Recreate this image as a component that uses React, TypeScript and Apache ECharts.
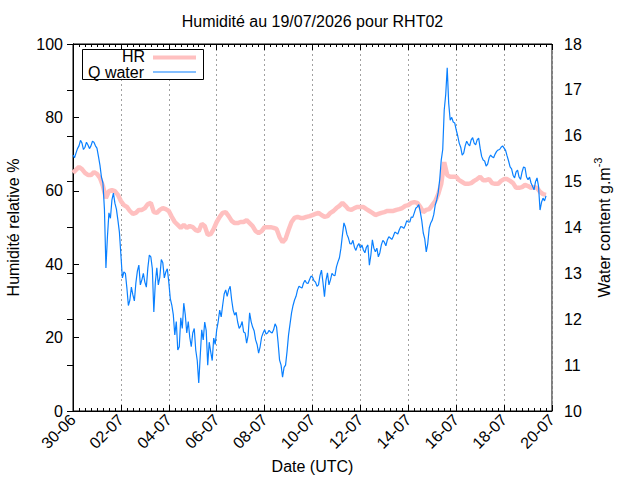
import React, { useEffect, useRef } from "react";
import * as echarts from "echarts";

const TITLE = "Humidité au 19/07/2026 pour RHT02";
const X_NAME = "Date (UTC)";
const Y_LEFT_NAME = "Humidité relative %";
const Y_RIGHT_NAME = "Water content g.m";
const Y_RIGHT_SUP = "-3";
const SERIES_NAMES = ["HR", "Q water"];
const X_TICK_LABELS = ["30-06", "02-07", "04-07", "06-07", "08-07", "10-07", "12-07", "14-07", "16-07", "18-07", "20-07"];
const HR_STEP_DAYS = 0.125; // HR: one reading every 3 hours from 30-06 00:00 UTC
const Q_STEP_DAYS = 0.0625; // Q water: one reading every 1.5 hours from 30-06 00:00 UTC

const HR_VALUES = [
  64.9, 65.7, 66.5, 65.9, 64.9, 64.3, 64.3, 65.1, 64.6, 63.5,
  61.3, 58.0, 59.9, 60.2, 59.9, 58.9, 57.2, 56.1, 55.6, 54.5,
  53.7, 54.0, 54.8, 54.8, 55.3, 56.4, 56.7, 54.2, 54.0, 54.8,
  55.3, 55.0, 54.5, 52.9, 51.5, 50.7, 49.9, 50.7, 49.9, 50.4,
  50.1, 49.3, 49.0, 51.0, 50.4, 48.0, 48.2, 49.6, 51.5, 52.9,
  54.0, 54.2, 53.1, 51.8, 51.2, 51.2, 51.5, 51.5, 52.0, 51.2,
  50.4, 49.0, 48.5, 49.0, 50.1, 50.1, 50.1, 49.9, 49.6, 47.4,
  46.0, 46.9, 49.3, 51.5, 52.6, 52.9, 52.6, 52.6, 52.9, 53.1,
  53.4, 53.7, 54.0, 53.4, 52.9, 53.1, 54.0, 54.5, 55.3, 55.9,
  56.7, 55.9, 55.0, 54.8, 55.3, 55.6, 55.6, 55.6, 55.0, 54.5,
  54.0, 53.4, 53.7, 54.0, 54.2, 54.5, 54.5, 54.5, 54.8, 55.0,
  55.3, 55.9, 56.1, 56.7, 56.9, 56.7, 55.6, 54.2, 54.8, 55.0,
  56.1, 57.2, 59.1, 61.9, 67.8, 64.3, 63.8, 63.8, 63.8, 62.9,
  62.4, 61.9, 61.9, 62.1, 62.7, 63.2, 63.8, 62.9, 62.9, 63.2,
  62.1, 61.9, 61.9, 62.7, 63.2, 63.2, 62.7, 62.1, 60.8, 60.8,
  61.0, 61.6, 61.3, 60.8, 61.0, 60.8, 59.7, 59.1, 58.9,
];

const Q_VALUES = [
  15.58, 15.52, 15.62, 15.72, 15.78, 15.90, 15.84, 15.70, 15.75, 15.86,
  15.80, 15.72, 15.78, 15.88, 15.86, 15.78, 15.73, 15.55, 15.36, 15.10,
  14.97, 14.40, 13.12, 13.80, 14.32, 14.20, 14.60, 14.75, 14.53, 14.40,
  14.16, 13.90, 13.40, 12.90, 13.03, 13.00, 12.68, 12.30, 12.42, 12.70,
  12.53, 12.40, 12.79, 13.05, 13.18, 12.75, 12.86, 13.00, 12.81, 12.70,
  13.12, 13.40, 13.36, 13.10, 12.16, 12.80, 13.12, 12.75, 12.92, 13.30,
  13.23, 12.90, 13.03, 13.10, 12.81, 12.45, 12.31, 12.10, 11.66, 11.95,
  11.33, 11.40, 12.03, 11.80, 12.35, 12.10, 11.70, 11.95, 11.61, 11.40,
  11.70, 11.80, 11.33, 11.10, 10.61, 11.20, 11.77, 11.55, 11.94, 11.75,
  11.00, 11.50, 11.29, 11.10, 11.59, 11.45, 11.77, 11.95, 12.20, 12.05,
  12.31, 12.55, 12.64, 12.50, 12.64, 12.72, 12.42, 12.20, 12.09, 12.15,
  11.94, 11.80, 11.85, 11.95, 11.72, 11.70, 11.48, 11.65, 12.14, 11.95,
  11.83, 11.75, 11.55, 11.45, 11.26, 11.40, 11.61, 11.70, 11.77, 11.68,
  11.70, 11.76, 11.72, 11.70, 11.77, 11.90, 11.83, 11.50, 11.11, 11.00,
  10.74, 10.95, 11.00, 11.30, 11.66, 11.90, 12.14, 12.30, 12.42, 12.50,
  12.64, 12.72, 12.70, 12.68, 12.79, 12.85, 12.79, 12.78, 12.86, 12.94,
  12.92, 12.84, 12.81, 12.72, 12.75, 12.95, 13.07, 12.80, 12.49, 12.85,
  13.01, 12.75, 12.86, 13.00, 12.96, 12.95, 13.14, 13.25, 13.34, 13.55,
  13.84, 14.10, 14.01, 13.85, 13.77, 13.65, 13.64, 13.72, 13.57, 13.50,
  13.60, 13.65, 13.55, 13.62, 13.51, 13.45, 13.57, 13.62, 13.18, 13.40,
  13.73, 13.55, 13.47, 13.55, 13.36, 13.45, 13.62, 13.72, 13.68, 13.60,
  13.73, 13.80, 13.77, 13.74, 13.81, 13.90, 13.88, 13.86, 13.95, 14.02,
  14.01, 13.98, 14.05, 14.15, 14.12, 14.12, 14.23, 14.22, 14.32, 14.42,
  14.45, 14.50, 14.34, 14.15, 13.88, 13.75, 13.47, 13.65, 13.99, 14.10,
  14.16, 14.28, 14.49, 14.60, 14.77, 15.05, 15.47, 15.70, 16.56, 16.90,
  17.48, 16.70, 16.34, 16.40, 16.30, 16.28, 16.13, 16.00, 15.84, 15.75,
  15.58, 15.62, 15.78, 15.88, 15.82, 15.78, 15.91, 15.96, 15.84, 15.80,
  15.91, 15.95, 15.73, 15.55, 15.47, 15.45, 15.34, 15.38, 15.52, 15.58,
  15.54, 15.52, 15.60, 15.66, 15.69, 15.70, 15.75, 15.78, 15.73, 15.68,
  15.56, 15.45, 15.32, 15.28, 15.14, 15.08, 15.21, 15.25, 15.10, 15.05,
  15.21, 15.32, 15.30, 15.10, 15.04, 15.10, 14.97, 14.90, 14.82, 15.00,
  15.08, 14.90, 14.38, 14.55, 14.64, 14.58, 14.69,
];

const HR_COLOR = "#ffc0c0";
const Q_COLOR = "#0a80ff";
const FONT = "'Liberation Sans', Arial, Helvetica, sans-serif";

const toPairs = (vals: number[], step: number) => vals.map((v, i) => [i * step, v]);

export default function App() {
  const ref = useRef<HTMLDivElement>(null);
  useEffect(() => {
    const chart = echarts.init(ref.current as HTMLDivElement, null, { renderer: "svg" });
    const G = { left: 73, right: 552, top: 44, bottom: 411 };
    const xCommon = {
      type: "value" as const,
      min: 0,
      max: 20,
      interval: 2,
      axisLine: { show: true, lineStyle: { color: "#000", width: 1 } },
      axisTick: { show: true, inside: true, length: 6, lineStyle: { color: "#000" } },
      minorTick: { show: true, splitNumber: 8, length: 3, lineStyle: { color: "#000" } },
    };
    chart.setOption({
      animation: false,
      backgroundColor: "#fff",
      textStyle: { fontFamily: FONT, color: "#000" },
      grid: {
        left: G.left,
        right: 640 - G.right,
        top: G.top,
        bottom: 480 - G.bottom,
        show: true,
        borderColor: "#000",
        borderWidth: 1,
        backgroundColor: "transparent",
        containLabel: false,
        outerBoundsMode: "none",
      },
      xAxis: [
        {
          ...xCommon,
          position: "bottom",
          name: X_NAME,
          nameLocation: "middle",
          nameGap: 47,
          nameTextStyle: { fontSize: 16, color: "#000", fontFamily: FONT },
          axisLabel: {
            rotate: 45,
            margin: 6,
            fontSize: 16,
            color: "#000",
            fontFamily: FONT,
            hideOverlap: false,
            formatter: (v: number) => X_TICK_LABELS[Math.round(v / 2)] ?? "",
          },
          splitLine: { show: true, lineStyle: { color: "#a0a0a0", type: [2, 3], width: 1 } },
        },
        {
          ...xCommon,
          position: "top",
          axisLabel: { show: false },
          splitLine: { show: false },
        },
      ],
      yAxis: [
        {
          type: "value",
          position: "left",
          min: 0,
          max: 100,
          interval: 20,
          name: Y_LEFT_NAME,
          nameLocation: "middle",
          nameGap: 52,
          nameTextStyle: { fontSize: 16, color: "#000", fontFamily: FONT },
          axisLine: { show: true, lineStyle: { color: "#000" } },
          axisTick: { show: true, inside: true, length: 6, lineStyle: { color: "#000" } },
          axisLabel: { margin: 10, fontSize: 16, color: "#000", fontFamily: FONT },
          splitLine: { show: false },
        },
        {
          type: "value",
          position: "right",
          min: 10,
          max: 18,
          interval: 1,
          name: `{a|${Y_RIGHT_NAME}}{s|${Y_RIGHT_SUP}}`,
          nameLocation: "middle",
          nameGap: 40,
          nameTextStyle: {
            fontSize: 16,
            color: "#000",
            fontFamily: FONT,
            rich: {
              a: { fontSize: 16, fontFamily: FONT, color: "#000", lineHeight: 20, verticalAlign: "bottom" },
              s: { fontSize: 11, fontFamily: FONT, color: "#000", lineHeight: 20, verticalAlign: "top" },
            },
          },
          axisLine: { show: true, lineStyle: { color: "#000" } },
          axisTick: { show: true, inside: true, length: 6, lineStyle: { color: "#000" } },
          axisLabel: { margin: 12, fontSize: 16, color: "#000", fontFamily: FONT },
          splitLine: { show: false },
        },
      ],
      series: [
        {
          name: SERIES_NAMES[0],
          type: "line",
          xAxisIndex: 0,
          yAxisIndex: 0,
          data: toPairs(HR_VALUES, HR_STEP_DAYS),
          showSymbol: false,
          symbol: "none",
          lineStyle: { color: HR_COLOR, width: 4.5 },
          itemStyle: { color: HR_COLOR },
          silent: true,
        },
        {
          name: SERIES_NAMES[1],
          type: "line",
          xAxisIndex: 0,
          yAxisIndex: 1,
          data: toPairs(Q_VALUES, Q_STEP_DAYS),
          showSymbol: false,
          symbol: "none",
          lineStyle: { color: Q_COLOR, width: 1.2 },
          itemStyle: { color: Q_COLOR },
          silent: true,
        },
      ],
      graphic: [
        {
          type: "text",
          x: (G.left + G.right) / 2,
          y: 21,
          style: { text: TITLE, fontSize: 16, fontFamily: FONT, fill: "#000", textAlign: "center", textVerticalAlign: "middle" },
        },
        {
          type: "rect",
          shape: { x: 82.5, y: 49.5, width: 121, height: 30 },
          style: { fill: "#fff", stroke: "#000", lineWidth: 1 },
          z: 10,
        },
        {
          type: "text",
          x: 145,
          y: 56,
          z: 11,
          style: { text: SERIES_NAMES[0], fontSize: 16, fontFamily: FONT, fill: "#000", textAlign: "right", textVerticalAlign: "middle" },
        },
        {
          type: "text",
          x: 144,
          y: 72,
          z: 11,
          style: { text: SERIES_NAMES[1], fontSize: 16, fontFamily: FONT, fill: "#000", textAlign: "right", textVerticalAlign: "middle" },
        },
        {
          type: "line",
          z: 11,
          shape: { x1: 153, y1: 57.5, x2: 196, y2: 57.5 },
          style: { stroke: HR_COLOR, lineWidth: 4 },
        },
        {
          type: "line",
          z: 11,
          shape: { x1: 153, y1: 72, x2: 196, y2: 72 },
          style: { stroke: Q_COLOR, lineWidth: 1.2 },
        },
      ],
    });
    return () => chart.dispose();
  }, []);
  return (
    <div
      ref={ref}
      style={{ position: "fixed", left: 0, top: 0, width: 640, height: 480, background: "#fff" }}
    />
  );
}
